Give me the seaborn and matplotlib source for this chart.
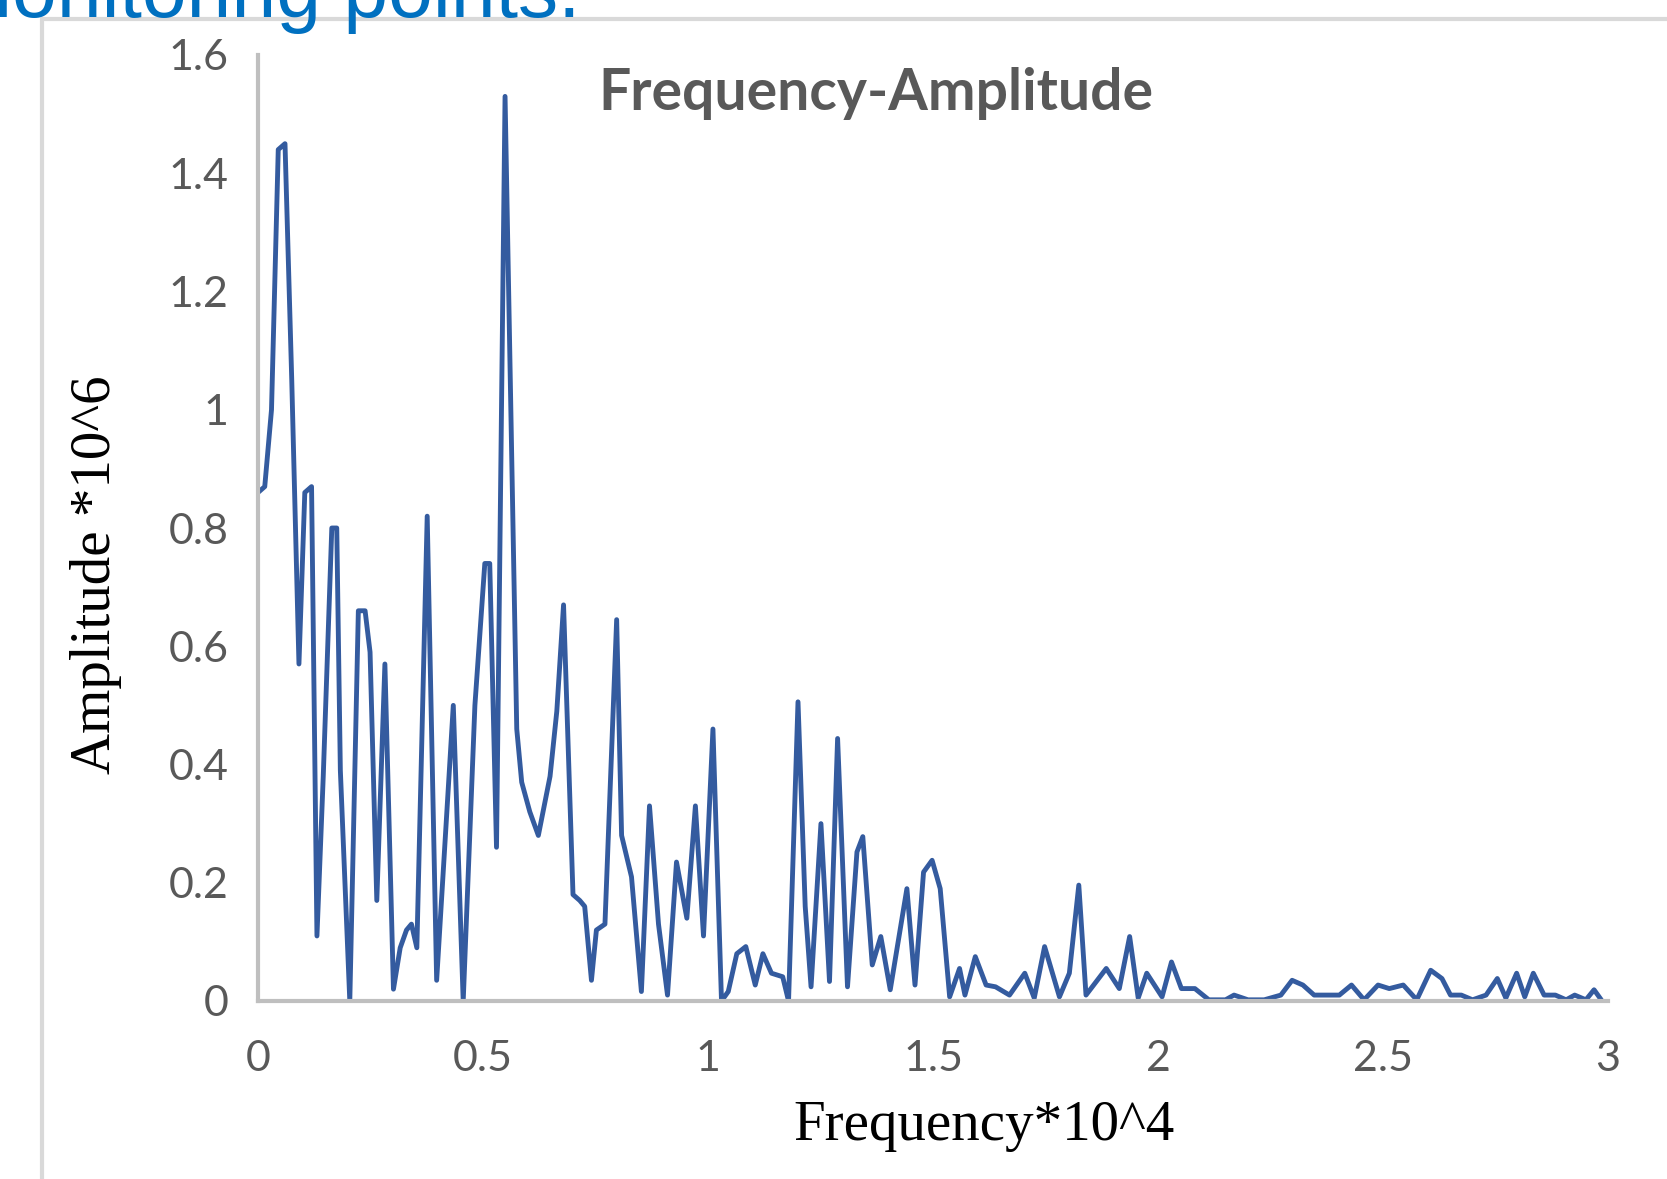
import matplotlib.pyplot as plt
import seaborn as sns
import pandas as pd
from matplotlib.lines import Line2D
from matplotlib.ticker import FuncFormatter, MultipleLocator

freq = [0.000, 0.015, 0.030, 0.045, 0.060, 0.075, 0.091, 0.104, 0.119, 0.131,
        0.145, 0.164, 0.175, 0.183, 0.204, 0.223, 0.238, 0.249, 0.264, 0.282,
        0.301, 0.316, 0.330, 0.341, 0.353, 0.376, 0.397, 0.434, 0.456, 0.482,
        0.504, 0.515, 0.530, 0.549, 0.575, 0.586, 0.604, 0.623, 0.649, 0.664,
        0.679, 0.700, 0.715, 0.726, 0.741, 0.752, 0.771, 0.797, 0.808, 0.830,
        0.852, 0.870, 0.890, 0.910, 0.930, 0.953, 0.972, 0.990, 1.011, 1.030,
        1.045, 1.064, 1.084, 1.105, 1.122, 1.141, 1.166, 1.179, 1.200, 1.216,
        1.229, 1.251, 1.270, 1.288, 1.310, 1.331, 1.344, 1.365, 1.384, 1.405,
        1.442, 1.460, 1.479, 1.498, 1.516, 1.537, 1.559, 1.571, 1.594, 1.618,
        1.639, 1.670, 1.704, 1.725, 1.748, 1.781, 1.803, 1.824, 1.840, 1.885,
        1.914, 1.937, 1.956, 1.975, 2.009, 2.030, 2.052, 2.082, 2.113, 2.150,
        2.169, 2.200, 2.236, 2.273, 2.298, 2.322, 2.347, 2.384, 2.403, 2.430,
        2.458, 2.489, 2.514, 2.545, 2.575, 2.606, 2.631, 2.650, 2.674, 2.699,
        2.729, 2.754, 2.773, 2.797, 2.815, 2.834, 2.858, 2.883, 2.907, 2.926,
        2.951, 2.969, 2.985]

amplitude = [0.86, 0.87, 1.00, 1.44, 1.45, 1.05, 0.57, 0.86, 0.87, 0.11,
             0.38, 0.80, 0.80, 0.39, 0.00, 0.66, 0.66, 0.59, 0.17, 0.57,
             0.02, 0.09, 0.12, 0.13, 0.09, 0.82, 0.035, 0.50, 0.00, 0.50,
             0.74, 0.74, 0.26, 1.53, 0.46, 0.37, 0.32, 0.28, 0.38, 0.49,
             0.67, 0.18, 0.17, 0.16, 0.035, 0.12, 0.13, 0.645, 0.28, 0.21,
             0.016, 0.33, 0.13, 0.01, 0.235, 0.14, 0.33, 0.11, 0.46, 0.00,
             0.016, 0.08, 0.092, 0.027, 0.08, 0.047, 0.041, 0.00, 0.506, 0.16,
             0.024, 0.30, 0.033, 0.444, 0.024, 0.252, 0.278, 0.061, 0.109, 0.019,
             0.19, 0.027, 0.218, 0.238, 0.19, 0.007, 0.055, 0.01, 0.075, 0.027,
             0.024, 0.01, 0.047, 0.005, 0.092, 0.007, 0.047, 0.196, 0.01, 0.055,
             0.021, 0.109, 0.005, 0.047, 0.007, 0.066, 0.021, 0.021, 0.002, 0.002,
             0.01, 0.002, 0.002, 0.01, 0.035, 0.027, 0.01, 0.01, 0.01, 0.027,
             0.002, 0.027, 0.021, 0.027, 0.002, 0.052, 0.038, 0.01, 0.01, 0.002,
             0.01, 0.038, 0.005, 0.047, 0.007, 0.047, 0.01, 0.01, 0.002, 0.01,
             0.002, 0.019, 0.002]

title = "Frequency-Amplitude"
x_label = "Frequency*10^4"
y_label = "Amplitude *10^6"
page_text = "monitoring points."

axis_gray = "#BFBFBF"
label_gray = "#595959"
line_blue = "#345B9F"


def main():
    data = pd.DataFrame({"freq": freq, "amp": amplitude})

    sns.set_theme(style="white")
    plt.rcParams["font.family"] = ["Lato", "DejaVu Sans"]

    W, H = 1667, 1179
    fig = plt.figure(figsize=(W / 100, H / 100), dpi=100)
    ax = fig.add_axes([258 / W, 1 - 1001 / H, 1350 / W, 946 / H])

    sns.lineplot(data=data, x="freq", y="amp", ax=ax, color=line_blue,
                 linewidth=3.5, sort=False, estimator=None)

    ax.set_xlim(0, 3)
    ax.set_ylim(0, 1.6)
    ax.xaxis.set_major_locator(MultipleLocator(0.5))
    ax.yaxis.set_major_locator(MultipleLocator(0.2))
    fmt = FuncFormatter(lambda v, p: f"{v:g}")
    ax.xaxis.set_major_formatter(fmt)
    ax.yaxis.set_major_formatter(fmt)

    for side in ["top", "right"]:
        ax.spines[side].set_visible(False)
    for side in ["left", "bottom"]:
        ax.spines[side].set_color(axis_gray)
        ax.spines[side].set_linewidth(3)

    ax.tick_params(axis="both", direction="out", color=axis_gray, width=3,
                   length=11, labelcolor=label_gray, labelsize=31)
    ax.tick_params(axis="x", pad=17)
    ax.tick_params(axis="y", pad=10)

    ax.set_xlabel(x_label, family="Liberation Serif", fontsize=41, color="black")
    ax.xaxis.set_label_coords(0.538, -0.105)
    ax.set_ylabel(y_label, family="Liberation Serif", fontsize=41, color="black")
    ax.yaxis.set_label_coords(-0.101, 0.451)

    ax.text(0.458, 0.942, title, transform=ax.transAxes, ha="center",
            va="baseline", fontsize=41, fontweight="bold", color=label_gray)

    # chart area border and the clipped page text above it
    fx = 42 / W
    fy = 1 - 19 / H
    fig.add_artist(Line2D([fx, fx], [0, fy], transform=fig.transFigure,
                          color="#D9D9D9", linewidth=3))
    fig.add_artist(Line2D([fx, 1], [fy, fy], transform=fig.transFigure,
                          color="#D9D9D9", linewidth=3))
    fig.text(580 / W, 1 - 17 / H, page_text, ha="right", va="baseline",
             family="Liberation Sans", fontsize=58, color="#0070C0")

    fig.savefig("out.png", dpi=100)


if __name__ == "__main__":
    main()
